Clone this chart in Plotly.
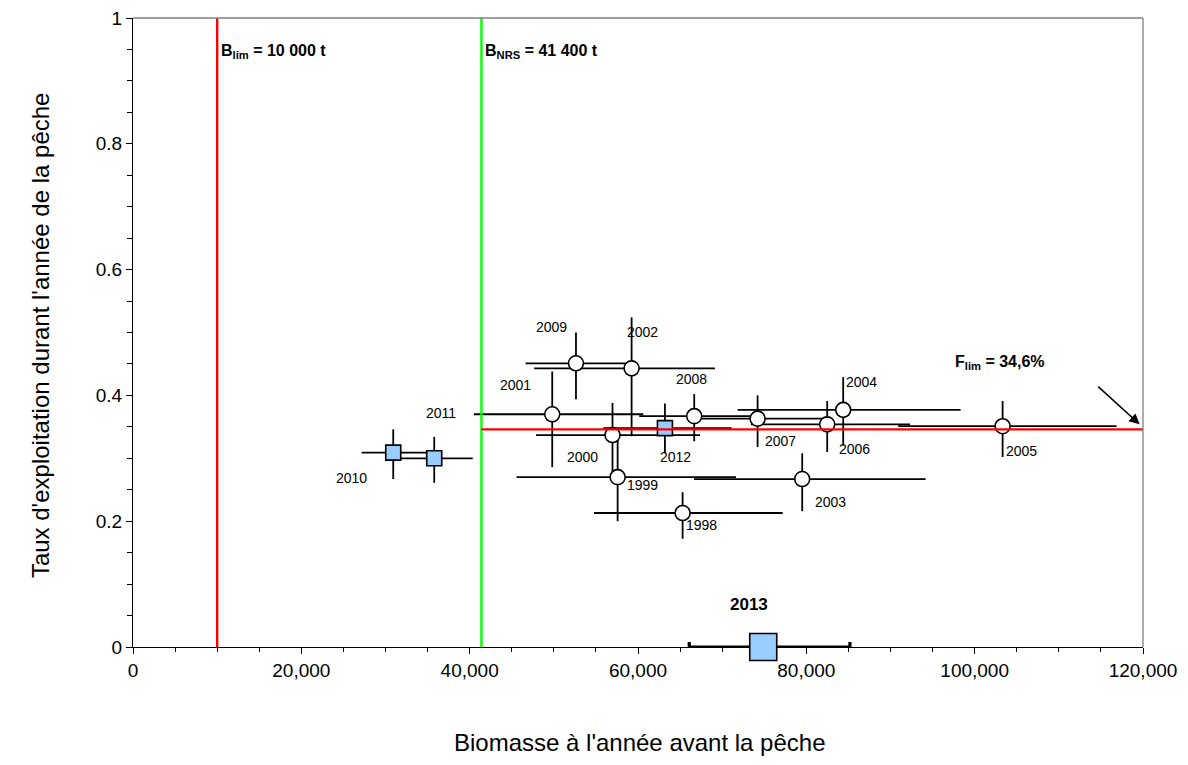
import plotly.graph_objects as go

# ---- data ----
years = ["1998", "1999", "2000", "2001", "2002", "2003", "2004", "2005",
         "2006", "2007", "2008", "2009"]
biomass = [65300, 57580, 56970, 49810, 59240, 79510, 84380, 103320,
           82480, 74210, 66680, 52630]
biomass_low = [54770, 45570, 47880, 40510, 47670, 66650, 71840, 90920,
               73420, 66410, 60150, 46650]
biomass_high = [77190, 71640, 67360, 60620, 69140, 94170, 98330, 116860,
                92310, 82800, 74490, 58570]
rate = [0.213, 0.270, 0.337, 0.370, 0.443, 0.267, 0.377, 0.351,
        0.354, 0.363, 0.367, 0.451]
rate_low = [0.172, 0.200, 0.278, 0.286, 0.335, 0.216, 0.320, 0.302,
            0.310, 0.318, 0.327, 0.394]
rate_high = [0.246, 0.330, 0.388, 0.438, 0.524, 0.308, 0.429, 0.391,
             0.391, 0.400, 0.402, 0.500]

sq_years = ["2010", "2011", "2012"]
sq_biomass = [30920, 35790, 63200]
sq_biomass_low = [27170, 31720, 55870]
sq_biomass_high = [35280, 40360, 71120]
sq_rate = [0.309, 0.300, 0.348]
sq_rate_low = [0.267, 0.261, 0.308]
sq_rate_high = [0.346, 0.334, 0.387]

proj_year = ["2013"]
proj_biomass = [74880]
proj_biomass_low = [66090]
proj_biomass_high = [85180]
proj_rate = [0.0]

B_lim = 10000
B_nrs = 41400
F_lim = 0.346
x_max = 120000

# label offsets in pixels (dx, dy) relative to the point
label_offsets = {
    "1998": (19, -12), "1999": (25, -8), "2000": (-30, -22), "2001": (-37, 29),
    "2002": (11, 36), "2003": (28, -23), "2004": (18, 28), "2005": (19, -25),
    "2006": (27, -25), "2007": (23, -22), "2008": (-3, 37), "2009": (-24, 36),
    "2010": (-42, -25), "2011": (7, 45), "2012": (11, -29), "2013": (-14, 43),
}

FONT = "Arial, Liberation Sans, sans-serif"
ERR_COL = "black"


def minus(v, lo):
    return [a - b for a, b in zip(v, lo)]


def plus(v, hi):
    return [b - a for a, b in zip(v, hi)]


fig = go.Figure()

fig.add_trace(go.Scatter(
    x=biomass, y=rate, mode="markers",
    marker=dict(symbol="circle", size=15, color="white",
                line=dict(color="black", width=1.6)),
    error_x=dict(type="data", symmetric=False,
                 array=plus(biomass, biomass_high),
                 arrayminus=minus(biomass, biomass_low),
                 color=ERR_COL, thickness=1.8, width=0),
    error_y=dict(type="data", symmetric=False,
                 array=plus(rate, rate_high),
                 arrayminus=minus(rate, rate_low),
                 color=ERR_COL, thickness=1.8, width=0),
    showlegend=False, hoverinfo="skip"))

fig.add_trace(go.Scatter(
    x=sq_biomass, y=sq_rate, mode="markers",
    marker=dict(symbol="square", size=15, color="#99CCFF",
                line=dict(color="black", width=1.6)),
    error_x=dict(type="data", symmetric=False,
                 array=plus(sq_biomass, sq_biomass_high),
                 arrayminus=minus(sq_biomass, sq_biomass_low),
                 color=ERR_COL, thickness=1.8, width=0),
    error_y=dict(type="data", symmetric=False,
                 array=plus(sq_rate, sq_rate_high),
                 arrayminus=minus(sq_rate, sq_rate_low),
                 color=ERR_COL, thickness=1.8, width=0),
    showlegend=False, hoverinfo="skip"))

fig.add_trace(go.Scatter(
    x=proj_biomass, y=proj_rate, mode="markers", cliponaxis=False,
    marker=dict(symbol="square", size=27, color="#99CCFF",
                line=dict(color="black", width=1.6)),
    error_x=dict(type="data", symmetric=False,
                 array=plus(proj_biomass, proj_biomass_high),
                 arrayminus=minus(proj_biomass, proj_biomass_low),
                 color=ERR_COL, thickness=3.2, width=5),
    showlegend=False, hoverinfo="skip"))

# reference lines
fig.add_trace(go.Scatter(x=[B_lim, B_lim], y=[0, 1], mode="lines",
                         line=dict(color="#FF0000", width=2.4),
                         showlegend=False, hoverinfo="skip"))
fig.add_trace(go.Scatter(x=[B_nrs, B_nrs], y=[0, 1], mode="lines",
                         line=dict(color="#00FF00", width=2.4),
                         showlegend=False, hoverinfo="skip"))
fig.add_trace(go.Scatter(x=[B_nrs, x_max], y=[F_lim, F_lim], mode="lines",
                         line=dict(color="#FF0000", width=2.4),
                         showlegend=False, hoverinfo="skip", cliponaxis=False))

annotations = []
for yr, xv, yv in list(zip(years, biomass, rate)) + list(zip(sq_years, sq_biomass, sq_rate)):
    dx, dy = label_offsets[yr]
    annotations.append(dict(x=xv, y=yv, xref="x", yref="y", text=yr,
                            showarrow=False, xshift=dx, yshift=dy,
                            font=dict(family=FONT, size=14, color="black")))
dx, dy = label_offsets["2013"]
annotations.append(dict(x=proj_biomass[0], y=proj_rate[0], xref="x", yref="y",
                        text="<b>2013</b>", showarrow=False, xshift=dx, yshift=dy,
                        font=dict(family=FONT, size=17, color="black")))

annotations.append(dict(x=B_lim, y=0.947, xref="x", yref="y", xanchor="left",
                        xshift=2, showarrow=False,
                        text="<b>B<sub>lim</sub> = 10 000 t</b>",
                        font=dict(family=FONT, size=16, color="black")))
annotations.append(dict(x=B_nrs, y=0.947, xref="x", yref="y", xanchor="left",
                        xshift=2, showarrow=False,
                        text="<b>B<sub>NRS</sub> = 41 400 t</b>",
                        font=dict(family=FONT, size=16, color="black")))
annotations.append(dict(x=103000, y=0.453, xref="x", yref="y", xanchor="center",
                        showarrow=False,
                        text="<b>F<sub>lim</sub> = 34,6%</b>",
                        font=dict(family=FONT, size=16, color="black")))
# arrow pointing at the end of F_lim line
annotations.append(dict(x=x_max - 400, y=F_lim + 0.008, xref="x", yref="y",
                        ax=114500, ay=0.416, axref="x", ayref="y",
                        showarrow=True, arrowhead=2, arrowsize=1.3,
                        arrowwidth=1.6, arrowcolor="black", text=""))

# axis titles
annotations.append(dict(x=0.502, y=-0.152, xref="paper", yref="paper",
                        xanchor="center", yanchor="middle",
                        text="Biomasse à l'année avant la pêche", showarrow=False,
                        font=dict(family=FONT, size=24, color="black")))
annotations.append(dict(x=-0.092, y=0.496, xref="paper", yref="paper",
                        xanchor="center", yanchor="middle",
                        text="Taux d'exploitation durant l'année de la pêche",
                        textangle=-90, showarrow=False,
                        font=dict(family=FONT, size=24, color="black")))

# page body adds an 8px margin, so the figure is slightly smaller
fig.update_layout(
    width=1180, height=757,
    margin=dict(l=125, r=45, t=10, b=118),
    paper_bgcolor="white", plot_bgcolor="white",
    font=dict(family=FONT, color="black"),
    annotations=annotations,
    shapes=[
        dict(type="line", xref="paper", yref="paper", x0=0, x1=1, y0=1, y1=1,
             line=dict(color="#808080", width=1.3)),
        dict(type="line", xref="paper", yref="paper", x0=1, x1=1, y0=0, y1=1,
             line=dict(color="#808080", width=1.3)),
    ],
)

fig.update_xaxes(
    range=[0, x_max], showgrid=False, zeroline=False, automargin=False,
    showline=True, linecolor="black", linewidth=1.3,
    tickmode="linear", tick0=0, dtick=20000, tickformat=",d",
    ticks="outside", ticklen=6, tickcolor="black", tickwidth=1.2,
    minor=dict(dtick=5000, ticks="outside", ticklen=4, tickcolor="black", tickwidth=1),
    tickfont=dict(family=FONT, size=19, color="black"),
    ticklabeloverflow="allow",
    layer="below traces",
)
fig.update_yaxes(
    range=[0, 1], showgrid=False, zeroline=False, automargin=False,
    showline=True, linecolor="black", linewidth=1.3,
    tickmode="linear", tick0=0, dtick=0.2,
    ticks="outside", ticklen=6, tickcolor="black", tickwidth=1.2,
    minor=dict(dtick=0.05, ticks="outside", ticklen=5, tickcolor="black", tickwidth=1),
    tickfont=dict(family=FONT, size=19, color="black"),
    ticklabeloverflow="allow",
    layer="below traces",
)

fig.write_html("out.html")
